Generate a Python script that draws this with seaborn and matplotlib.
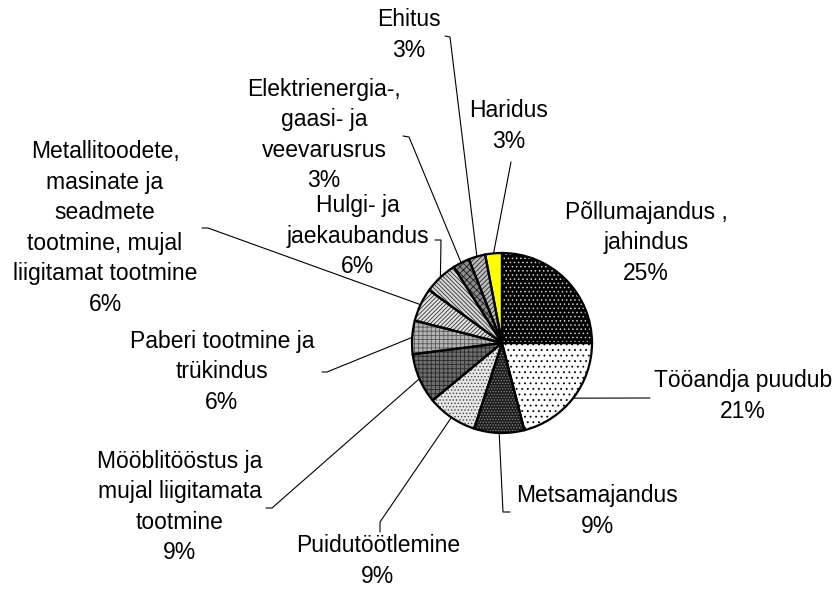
import numpy as np
import matplotlib
matplotlib.use("Agg")
import matplotlib.pyplot as plt
import seaborn as sns

# ---- data ----
categories = [
    "Põllumajandus ,\njahindus",
    "Tööandja puudub",
    "Metsamajandus",
    "Puidutöötlemine",
    "Mööblitööstus ja\nmujal liigitamata\ntootmine",
    "Paberi tootmine ja\ntrükindus",
    "Metallitoodete,\nmasinate ja\nseadmete\ntootmine, mujal\nliigitamat tootmine",
    "Hulgi- ja\njaekaubandus",
    "Elektrienergia-,\ngaasi- ja\nveevarusrus",
    "Ehitus",
    "Haridus",
]
shares = [25, 21, 9, 9, 9, 6, 6, 6, 3, 3, 3]

# ---- styles (face colour, hatch colour, hatch) ----
face_colors = ["#000000", "#ffffff", "#1c1c1c", "#e6e6e6", "#6e6e6e", "#b4b4b4",
               "#e4e4e4", "#d8d8d8", "#8c8c8c", "#bcbcbc", "#ffff00"]
hatch_colors = ["#d0d0d0", "#000000", "#8a8a8a", "#444444", "#2a2a2a", "#5a5a5a",
                "#333333", "#333333", "#1e1e1e", "#2a2a2a", "#ffff00"]
hatches = ["....", "...", "......", ".....", "++++", "++++",
           "////////", "\\\\\\\\\\\\\\\\", "xxxxx", "///////", ""]

# ---- layout (pixel coordinates, y from top) ----
W, H = 836, 590
CX, CY, R = 502, 343, 90
label_pos = [(646, 243), (743, 396), (597, 511), (378, 561), (180, 507),
             (222, 372), (105, 228), (358, 236), (324, 135), (409, 35), (509, 126)]
leader_pts = [
    [],
    [(650, 398)],
    [(503, 512), (510, 512)],
    [(380, 522), (380, 532)],
    [(272, 508), (266, 508)],
    [(327, 372), (322, 372)],
    [(208, 228), (202, 228)],
    [(441, 240), (435, 240)],
    [(409, 137), (403, 136)],
    [(450, 37), (445, 36)],
    [(511, 162)],
]

sns.set_theme(style="white")
plt.rcParams["font.family"] = ["Liberation Sans", "DejaVu Sans"]
plt.rcParams["hatch.linewidth"] = 0.6

fig = plt.figure(figsize=(W / 100, H / 100), dpi=100)
ax = fig.add_axes([0, 0, 1, 1])

center = (CX, H - CY)
common = dict(startangle=90, counterclock=False, radius=R, center=center, frame=True)

# base fills
wedges, _ = ax.pie(shares, colors=face_colors,
                   wedgeprops=dict(linewidth=0, edgecolor="none"), **common)
# hatch overlays
over, _ = ax.pie(shares, colors=["none"] * len(shares),
                 wedgeprops=dict(linewidth=0), **common)
for w, hc, h in zip(over, hatch_colors, hatches):
    w.set_facecolor("none")
    w.set_edgecolor(hc)
    w.set_linewidth(0)
    w.set_hatch(h)
# outlines
outl, _ = ax.pie(shares, colors=["none"] * len(shares),
                 wedgeprops=dict(linewidth=1.6, edgecolor="black"), **common)
for w in outl:
    w.set_facecolor("none")

ax.set_xlim(0, W)
ax.set_ylim(0, H)
ax.set_aspect("equal")
ax.axis("off")

for w, lab, val, (lx, ly), pts in zip(wedges, categories, shares, label_pos, leader_pts):
    ax.text(lx, H - ly, f"{lab}\n{val}%", ha="center", va="center",
            fontsize=16.5, linespacing=1.42, color="black")
    if pts:
        mid = np.deg2rad((w.theta1 + w.theta2) / 2)
        sx = CX + R * np.cos(mid)
        sy = (H - CY) + R * np.sin(mid)
        xs = [sx] + [p[0] for p in pts]
        ys = [sy] + [H - p[1] for p in pts]
        ax.plot(xs, ys, color="black", linewidth=0.8, zorder=0.5)

fig.savefig("out.png", dpi=100)
